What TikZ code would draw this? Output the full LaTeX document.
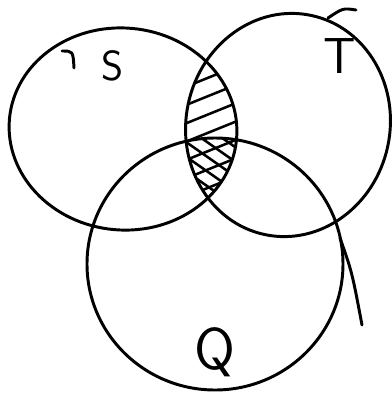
\documentclass[tikz,border=0pt]{standalone}
\usepackage{tikz}
\usetikzlibrary{calc}
\tikzset{
	setline/.style={draw, line width=2.1pt, line cap=round},
	hatchline/.style={line width=1.8pt, line cap=round},
	setlabel/.style={font=\sffamily\fontsize{#1}{#1}\selectfont, inner sep=0pt},
}
\newcommand{\ellS}{(123,129) ellipse [x radius=114, y radius=101, rotate=-5]}
\newcommand{\ellT}{(288,125) ellipse [x radius=102, y radius=112, rotate=-12]}
\newcommand{\ellQ}{(215,264) ellipse [x radius=128, y radius=126]}

\begin{document}
\begin{tikzpicture}[x=0.025cm, y=-0.025cm]
	\useasboundingbox (0,0) rectangle (392,396);
	% S and T: single hatching
	\begin{scope}
		\clip \ellS;
		\clip \ellT;
		\begin{scope}[shift={(210,132)}, rotate=22]
			\foreach \k in {-5,...,5}
				\draw[hatchline] (-100,\k*17) -- (100,\k*17);
		\end{scope}
	\end{scope}
	% S, T and Q: cross hatching
	\begin{scope}
		\clip \ellS;
		\clip \ellT;
		\clip \ellQ;
		\begin{scope}[shift={(208,172)}, rotate=-35]
			\foreach \k in {-6,...,6}
				\draw[hatchline] (-100,\k*12) -- (100,\k*12);
		\end{scope}
	\end{scope}
	% the three sets
	\draw[setline] \ellS;
	\draw[setline] \ellT;
	\draw[setline] \ellQ;
	% loose pen strokes
	\coordinate (hookS0) at (62,51);
	\coordinate (hookS1) at (74,68);
	\draw[setline] (hookS0) .. controls (73,51) .. (hookS1);
	\coordinate (hookT0) at (328,18);
	\coordinate (hookT1) at (356,10);
	\draw[setline] (hookT0) .. controls (343,8) .. (hookT1);
	\coordinate (tailQ0) at (340,238);
	\coordinate (tailQ1) at (362,325);
	\draw[setline] (tailQ0) .. controls (352,272) .. (tailQ1);
	% labels
	\node[setlabel=30] (labS) at (113,66) {S};
	\node[setlabel=36] (labT) at (340,56) {T};
	\node[setlabel=42] (labQ) at (215,352) {Q};
\end{tikzpicture}
\end{document}
